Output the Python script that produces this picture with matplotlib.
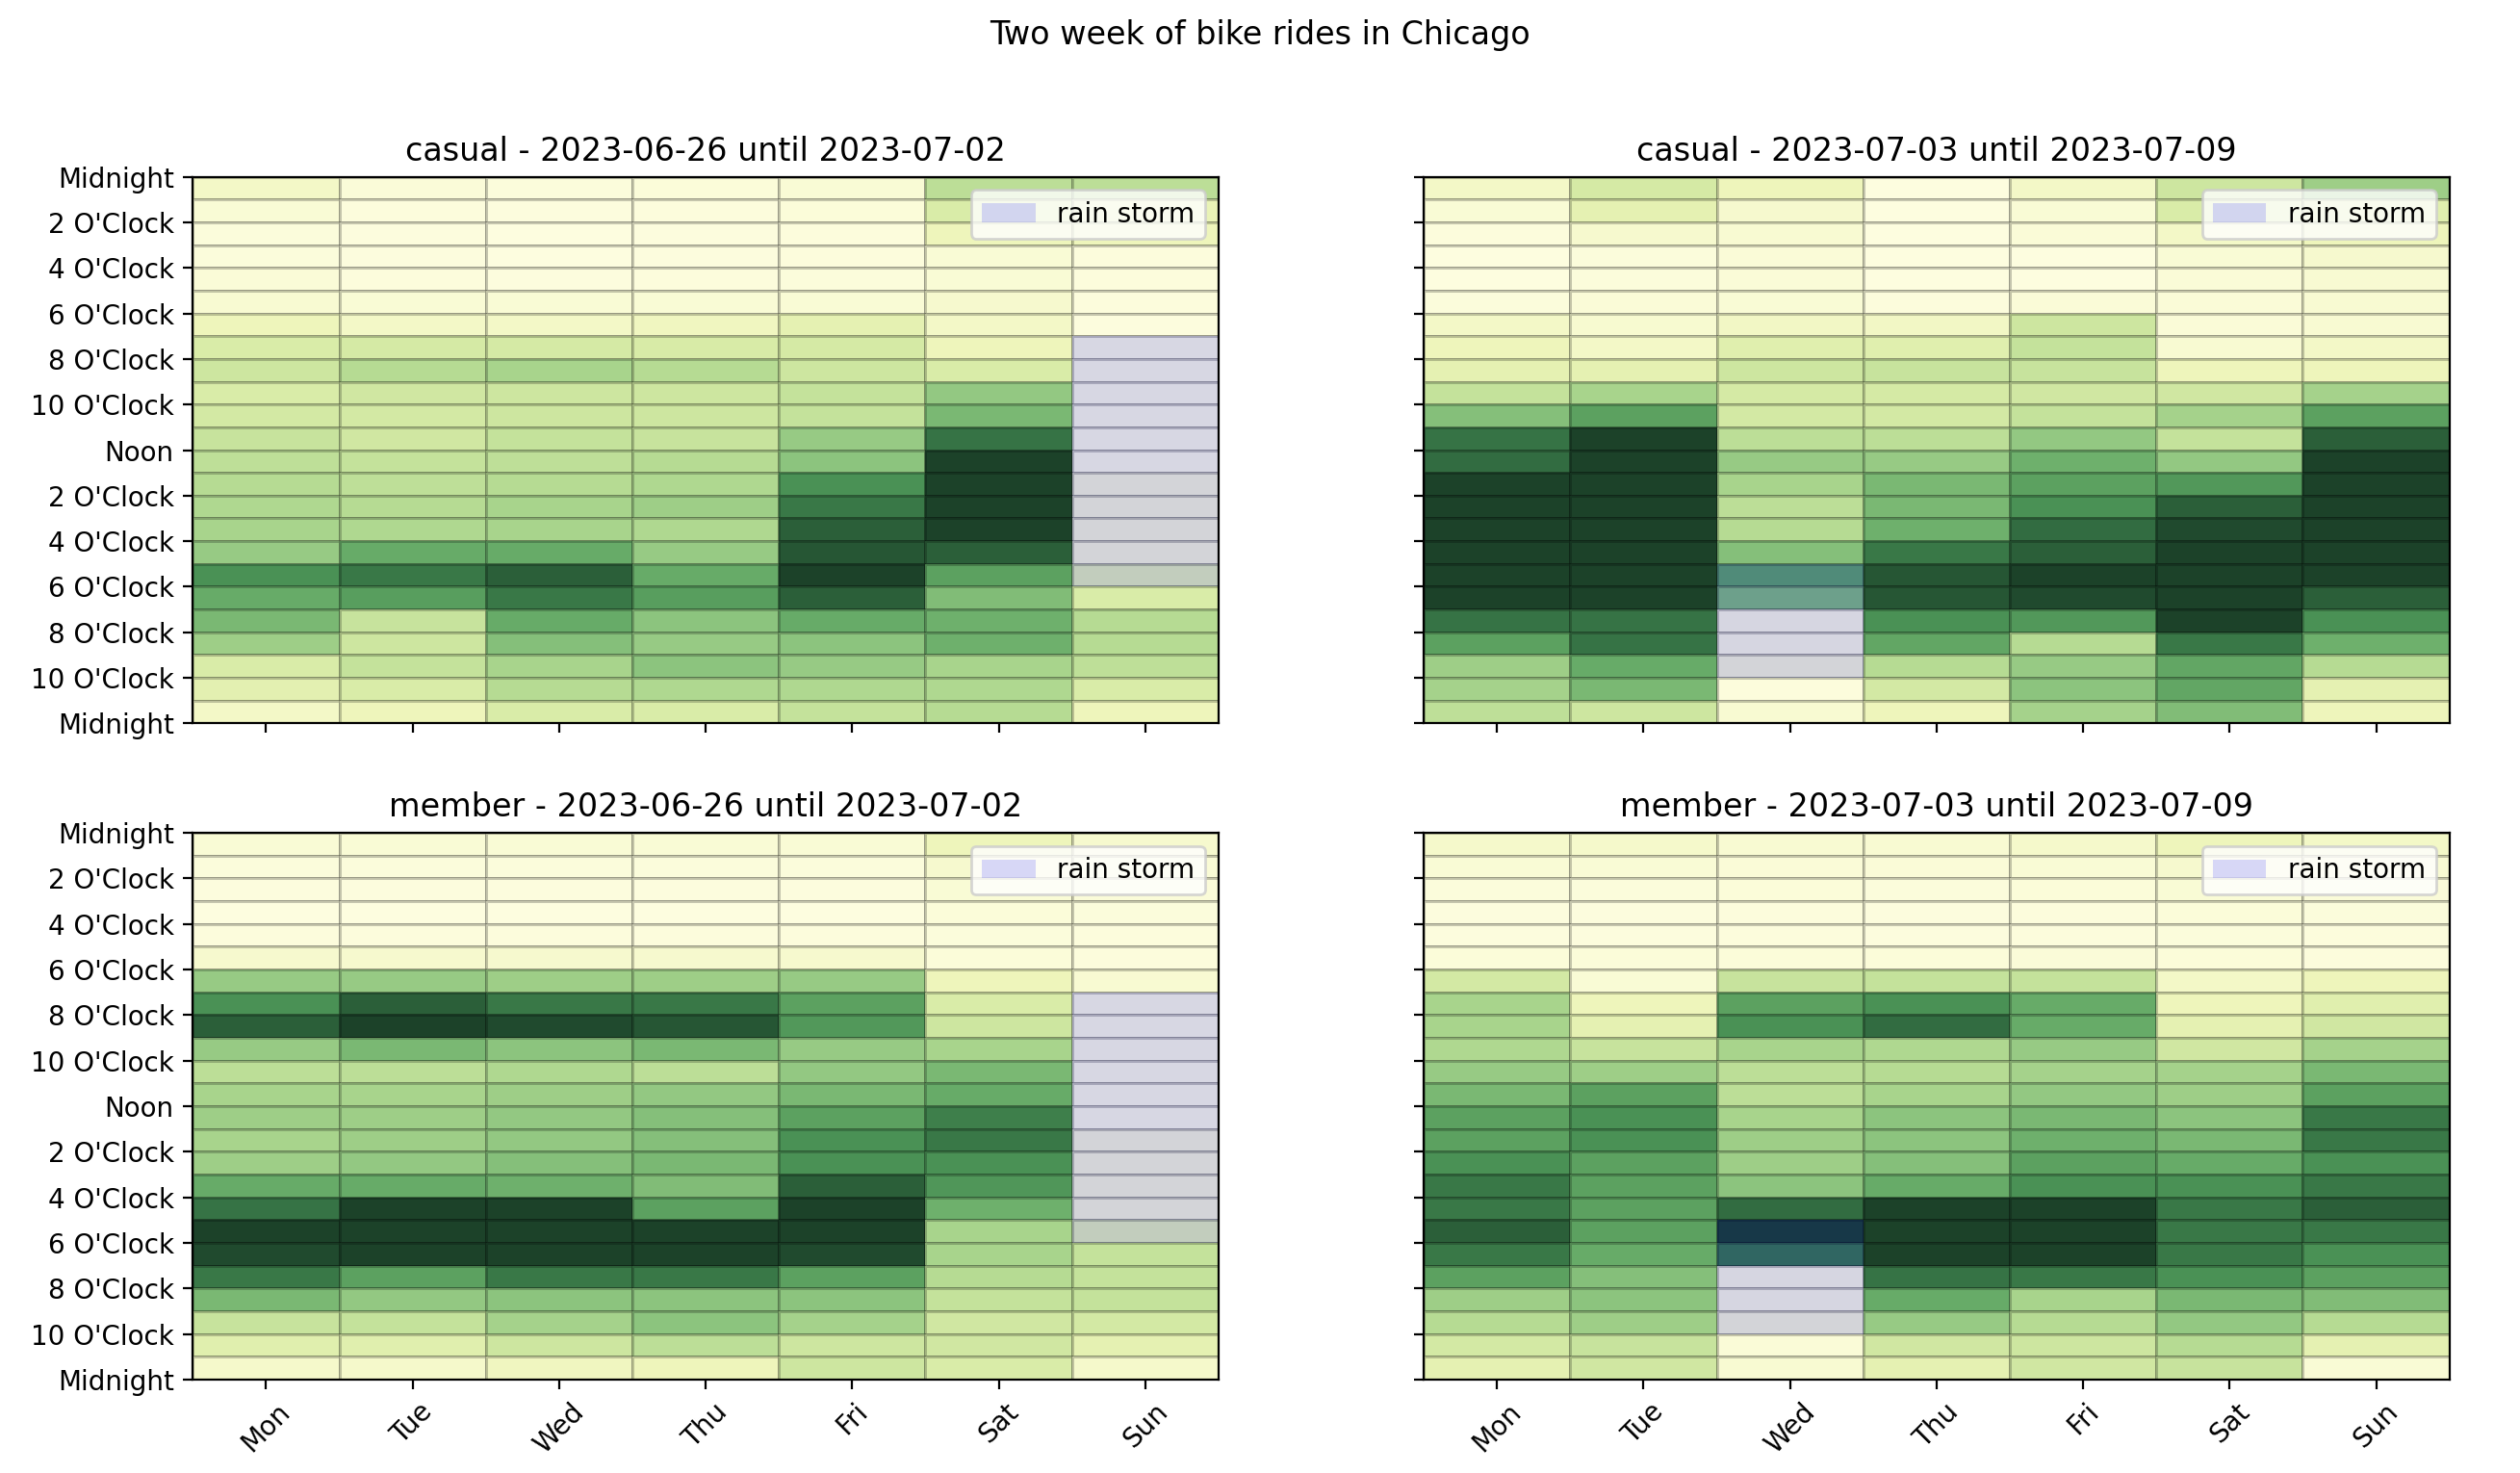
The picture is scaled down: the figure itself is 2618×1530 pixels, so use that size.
import numpy as np
import matplotlib
matplotlib.use("Agg")
import matplotlib.pyplot as plt
from matplotlib.colors import LinearSegmentedColormap
from matplotlib.patches import Rectangle

days = ["Mon", "Tue", "Wed", "Thu", "Fri", "Sat", "Sun"]
hour_labels = ["Midnight", "2 O'Clock", "4 O'Clock", "6 O'Clock", "8 O'Clock",
               "10 O'Clock", "Noon", "2 O'Clock", "4 O'Clock", "6 O'Clock",
               "8 O'Clock", "10 O'Clock", "Midnight"]
titles = ["casual - 2023-06-26 until 2023-07-02",
          "casual - 2023-07-03 until 2023-07-09",
          "member - 2023-06-26 until 2023-07-02",
          "member - 2023-07-03 until 2023-07-09"]

# ride intensity per day (rows: Mon..Sun), 24 hourly values each
casual_w1 = [
    [1.5, 0.8, 0.4, 0.4, 0.7, 1.0, 2.0, 3.2, 4.0, 3.2, 3.6, 4.2, 4.5, 4.8, 5.0, 5.2, 5.7, 8.0, 7.0, 6.5, 5.5, 3.2, 2.6, 1.5],
    [0.6, 0.3, 0.2, 0.2, 0.3, 0.8, 1.5, 3.5, 4.8, 3.8, 3.6, 3.8, 4.3, 4.5, 4.8, 5.0, 7.0, 8.7, 7.5, 4.2, 4.0, 4.3, 3.2, 2.0],
    [0.4, 0.2, 0.1, 0.1, 0.2, 0.8, 1.5, 3.5, 5.2, 4.0, 4.0, 4.3, 4.5, 4.8, 5.2, 5.2, 7.0, 9.3, 8.7, 7.0, 6.2, 5.2, 4.8, 3.2],
    [0.5, 0.3, 0.2, 0.2, 0.3, 0.8, 1.8, 3.3, 4.8, 4.0, 4.0, 4.2, 4.8, 5.0, 5.5, 5.0, 5.7, 7.0, 7.5, 6.0, 5.7, 6.0, 5.0, 3.2],
    [0.8, 0.5, 0.3, 0.3, 0.4, 0.8, 2.5, 3.5, 4.0, 4.3, 4.3, 5.7, 6.0, 8.0, 8.7, 9.3, 9.5, 10.0, 9.3, 7.0, 6.0, 5.7, 5.0, 4.3],
    [4.6, 3.2, 2.0, 0.8, 0.8, 1.2, 1.5, 2.0, 3.2, 5.8, 6.5, 8.8, 10.0, 10.0, 10.0, 10.0, 9.3, 7.4, 6.3, 6.8, 6.8, 5.2, 5.0, 4.8],
    [4.6, 2.3, 2.0, 0.3, 0.3, 0.3, 0.2, 0.1, 0.1, 0.1, 0.1, 0.1, 0.1, 1.0, 1.0, 1.0, 1.0, 2.5, 3.2, 4.8, 4.8, 4.5, 3.2, 2.0],
]
casual_w2 = [
    [1.5, 0.8, 0.3, 0.1, 0.1, 0.4, 1.5, 2.0, 2.5, 4.3, 6.2, 8.8, 9.0, 10.0, 10.0, 10.0, 10.0, 10.0, 10.0, 8.8, 7.4, 5.5, 5.3, 4.5],
    [3.5, 2.5, 1.2, 0.4, 0.4, 0.7, 1.1, 1.5, 2.5, 5.2, 7.4, 10.0, 10.0, 10.0, 10.0, 10.0, 10.0, 10.0, 10.0, 8.8, 8.8, 7.0, 6.5, 4.0],
    [2.0, 1.2, 1.0, 0.7, 0.7, 0.8, 1.6, 2.8, 4.0, 3.5, 3.6, 4.6, 5.7, 5.2, 4.6, 4.8, 6.2, 7.3, 6.3, 0.3, 0.3, 1.0, 0.3, 1.0],
    [0.1, 0.1, 0.1, 0.1, 0.1, 0.3, 1.6, 2.8, 4.2, 3.5, 3.6, 4.6, 5.7, 6.5, 6.5, 6.8, 8.7, 9.5, 9.5, 8.0, 7.2, 4.8, 3.6, 2.0],
    [1.5, 0.8, 0.7, 0.1, 0.1, 0.7, 4.0, 4.3, 4.2, 3.8, 4.3, 5.8, 6.8, 7.4, 8.0, 9.0, 9.3, 10.0, 9.8, 7.7, 4.8, 5.7, 6.0, 5.3],
    [4.0, 3.2, 1.5, 0.8, 0.7, 0.7, 0.7, 1.0, 2.0, 3.8, 5.3, 4.3, 5.8, 7.7, 9.3, 9.8, 10.0, 10.0, 10.0, 10.0, 8.7, 7.2, 7.2, 6.3],
    [5.5, 2.8, 2.0, 1.2, 1.0, 1.0, 1.0, 1.5, 2.0, 5.3, 7.4, 9.3, 10.0, 10.0, 10.0, 10.0, 10.0, 10.0, 9.3, 8.0, 6.8, 4.8, 2.5, 2.0],
]
member_w1 = [
    [0.8, 0.4, 0.2, 0.1, 0.3, 1.2, 5.7, 8.0, 9.3, 5.7, 4.6, 5.2, 5.5, 5.2, 5.5, 7.0, 8.8, 10.0, 9.8, 8.7, 6.5, 4.2, 2.8, 1.3],
    [0.8, 0.4, 0.2, 0.1, 0.3, 1.2, 5.7, 9.3, 10.0, 6.5, 4.6, 5.2, 5.5, 5.5, 5.8, 7.0, 10.0, 10.0, 10.0, 7.4, 5.8, 4.3, 2.8, 1.3],
    [0.8, 0.4, 0.2, 0.1, 0.3, 1.2, 5.5, 8.7, 9.8, 6.0, 5.0, 5.5, 5.8, 5.8, 6.2, 6.8, 10.0, 10.0, 10.0, 8.7, 6.0, 5.3, 4.0, 1.8],
    [0.8, 0.4, 0.2, 0.1, 0.3, 1.2, 5.5, 8.7, 9.5, 6.5, 4.6, 5.8, 6.2, 6.2, 6.5, 6.3, 7.4, 10.0, 10.0, 8.7, 6.0, 6.0, 4.6, 2.0],
    [0.8, 0.4, 0.2, 0.1, 0.3, 1.2, 5.7, 7.4, 7.7, 5.7, 5.8, 6.5, 7.4, 8.0, 8.0, 9.3, 10.0, 10.0, 9.8, 7.4, 6.0, 5.3, 4.0, 4.0],
    [2.0, 1.2, 0.8, 0.5, 0.4, 0.5, 2.0, 3.2, 4.0, 5.2, 6.5, 7.0, 8.5, 8.7, 8.0, 7.8, 6.8, 5.2, 5.2, 4.8, 4.3, 3.8, 3.8, 3.2],
    [1.2, 0.8, 0.6, 0.4, 0.3, 0.3, 1.0, 0.1, 0.1, 0.1, 0.1, 0.1, 0.1, 1.0, 1.0, 1.0, 1.0, 2.5, 4.3, 4.3, 4.3, 3.6, 2.5, 1.3],
]
member_w2 = [
    [1.3, 0.8, 0.4, 0.2, 0.2, 0.5, 3.6, 5.2, 5.2, 5.0, 5.7, 6.5, 7.4, 7.4, 8.0, 8.7, 8.7, 9.3, 8.7, 7.4, 5.5, 4.8, 3.6, 2.5],
    [1.3, 0.8, 0.4, 0.2, 0.2, 0.5, 0.8, 2.0, 2.5, 4.2, 5.5, 7.4, 8.0, 8.0, 7.4, 7.4, 7.4, 7.4, 7.0, 6.2, 6.0, 5.5, 4.2, 3.8],
    [1.0, 0.7, 0.5, 0.3, 0.3, 0.5, 4.2, 7.4, 8.0, 5.2, 4.6, 4.6, 5.2, 5.5, 5.5, 6.0, 9.0, 10.0, 8.7, 0.3, 0.3, 1.0, 0.7, 1.0],
    [1.0, 0.7, 0.4, 0.2, 0.2, 0.5, 4.3, 8.0, 9.0, 5.0, 4.8, 5.2, 6.0, 6.0, 6.2, 7.0, 10.0, 10.0, 10.0, 8.8, 7.0, 5.7, 3.8, 2.5],
    [1.3, 0.8, 0.5, 0.3, 0.3, 0.6, 4.3, 7.0, 7.0, 5.7, 5.3, 5.8, 6.5, 6.8, 7.4, 8.0, 10.0, 10.0, 10.0, 8.7, 5.2, 4.8, 4.0, 3.8],
    [2.0, 1.2, 0.8, 0.5, 0.4, 0.5, 1.5, 2.0, 2.5, 3.8, 5.3, 5.5, 6.0, 6.5, 7.0, 8.0, 8.7, 8.7, 8.7, 8.0, 6.5, 5.8, 4.8, 4.2],
    [1.5, 1.0, 0.6, 0.4, 0.3, 0.3, 2.0, 2.8, 3.8, 5.3, 6.5, 7.4, 8.7, 8.7, 8.0, 8.7, 9.3, 8.7, 8.0, 7.4, 6.3, 4.8, 2.5, 0.8],
]

# rain storm windows per week: day index, start hour, end hour
rain_day = [6, 2]
rain_start = [7, 17]
rain_end = [18, 22]

cmap = LinearSegmentedColormap.from_list("rides", [
    "#fdfde0", "#f8fad2", "#eef5bb", "#dcedaa", "#cde6a0", "#b0d890",
    "#8cc47e", "#68ac68", "#4a9155", "#326d41", "#1c4229"])

fig, axes = plt.subplots(2, 2, figsize=(13.09, 7.65), dpi=200, sharex=True, sharey=True)
fig.subplots_adjust(left=0.0765, right=0.972, top=0.88, bottom=0.0635, wspace=0.2, hspace=0.2)
fig.suptitle("Two week of bike rides in Chicago", fontsize=12, y=0.987)

grids = [casual_w1, casual_w2, member_w1, member_w2]
for i, ax in enumerate(axes.flat):
    data = np.array(grids[i]).T  # 24 x 7
    ax.pcolormesh(np.arange(len(days) + 1), np.arange(25), data, cmap=cmap,
                  vmin=0, vmax=10, edgecolors=(0, 0, 0, 0.22), linewidth=0.4)
    w = i % 2
    ax.add_patch(Rectangle((rain_day[w], rain_start[w]), 1, rain_end[w] - rain_start[w],
                           facecolor="blue", alpha=0.15, linewidth=0, label="rain storm"))
    ax.set_xlim(0, 7)
    ax.set_ylim(24, 0)
    ax.set_xticks(np.arange(len(days)) + 0.5)
    ax.set_xticklabels(days, rotation=45)
    ax.set_yticks(np.arange(0, 25, 2))
    ax.set_yticklabels(hour_labels)
    ax.set_title(titles[i], fontsize=12)
    ax.legend(loc="upper right")

fig.savefig("out.png", dpi=200)
